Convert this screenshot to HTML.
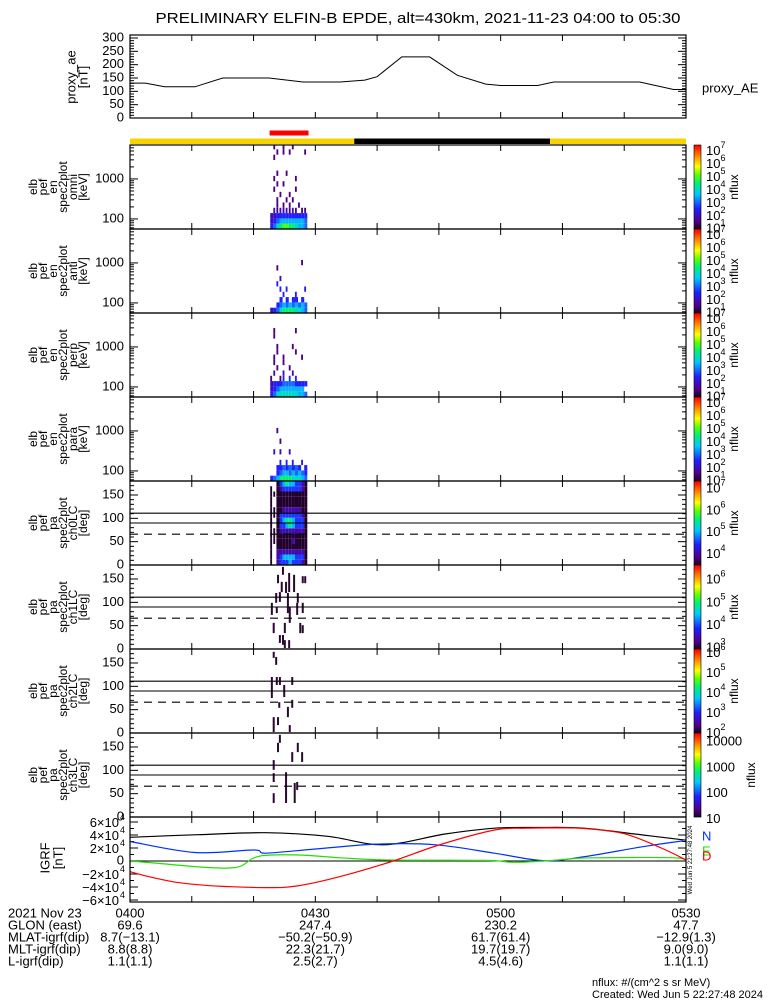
<!DOCTYPE html>
<html><head><meta charset="utf-8"><style>
html,body{margin:0;padding:0;background:#fff;}
svg{display:block;font-family:"Liberation Sans",sans-serif;}
</style></head><body>
<svg id="fig" width="775" height="1000" viewBox="0 0 775 1000" xmlns="http://www.w3.org/2000/svg">
<rect width="775" height="1000" fill="#fff"/>
<text x="418" y="23" font-size="15" text-anchor="middle" textLength="525" lengthAdjust="spacingAndGlyphs">PRELIMINARY ELFIN-B EPDE, alt=430km, 2021-11-23 04:00 to 05:30</text>
<g id="g"></g>
</svg>
<script>
// ---------- data ----------
const aeT = [0,2.5,5.6,10.5,15,22.5,28,34,38,40,44,48.5,53,57.6,60,66,68.6,82.5,88,90];
const aeV = [131,131,117,117,150,150,135,135,142,155,229,229,160,127,122,122,135,135,107,107];
const aeTicks = [0,50,100,150,200,250,300];

const igrfT_N = [0,11,22,32,41,51,59,66,73.5,83,90];
const igrfN = [36500,40500,43500,38000,25000,41500,50500,51500,50500,40000,32000];
const igrfT_E = [0,10.5,20,22,30,40,49.5,59,67,73.5,83,89.5];
const igrfE = [30000,13000,17000,12000,18500,26000,25000,12000,500,6600,22000,31000];
const igrfT_G = [0,2,11,15.6,18,20,22.5,28,34,42,57.5,62,67,71,75,88,90];
const igrfG = [-1000,-1500,-9000,-11000,-7700,4600,9000,9000,5000,1500,1000,-2000,0,3000,5000,5000,0];
const igrfT_D = [0,3,7,11,15,22,27,34,42.6,50,59,64,69,73.5,80,86,90];
const igrfD = [-16400,-24000,-32000,-36500,-39000,-41000,-38500,-24000,0,24600,47700,50500,51000,50000,42000,20000,1500];
const igrfTicks = [-60000,-40000,-20000,0,20000,40000,60000];

const orbitSegs = [[0,36.3,'#f7d400'],[36.3,68,'#000000'],[68,90,'#f7d400']];
const scienceZone = [22.6,28.9];

const specTimes = [22.7,23.2,23.7,24.2,24.7,25.2,25.7,26.2,26.7,27.2,27.7,28.2];
const specDt = 0.5;
const enEdges = [56,76,103,140,190,258,350,475,645,876,1190,1615,2190,2975,4040,5480,7100];
const omniRows = ["346788776554","234555555554","223333333333",".21212121.11","..1.1.1..1..","..1..1.1....","...1..1.....",".1......1...","..1.1.......",".1......1...","..1..1......","............","............",".1..........","..1.1.1....1",".1..1..1...."];
const antiRows = ["234677776654","..3454545454","...3.3.33.3.","....3...3...","...3.3.....3","..3.........","...2........","............","..1.........","..........1.","............","............","............","............","............","............"];
const perpRows = ["346666666554","23455555555.","233344443333","1..13.3.3...",".2..2..2....","..1...1.....",".1..1.......",".1..1.....1.","..1.....1...","..1....1....","............",".1..........",".1......1...","............","............","............"];
const paraRows = ["345777766654","..3455454543","..33434343.3","...3.3.3..3.","............",".2.2..2.....","............","...1........","............","..1.........","............","............","............","............","............","............"];
const pa0Rows = ["1.2333433321","1.2344443331","1.2222222221","1.1111111111","111111121111","111111111111","111222222221","1.1334543331","1.1345543331","111333333321","111122222211","1.1111111111","1.1111111111","111111111111","1.1233333321","..1345443321"];
const pa1T = [24.6,23.8,25.6,26.4,27.8,28.2,24.4,25.1,23.5,24.1,25.4,27.0,22.8,23.6,25.7,26.9,27.8,23.1,24.9,27.4,27.8,24.1,24.6,24.9,25.6];
const pa1Lo = [159,141,122,122,141,141,122,120,99,101,77,99,73,77,56,73,77,34,34,34,34,13,9,2,2];
const pa1Hi = [176,159,163,159,156,156,144,144,120,122,120,120,99,90,90,99,99,56,56,56,51,30,30,19,19];
const pa2T = [23.1,23.5,22.8,23.6,24.1,26.1,24.8,24.0,26.1,25.4,23.1,23.8,25.7];
const pa2Lo = [161,146,75,103,103,103,77,54,54,34,2,17,2];
const pa2Hi = [174,163,120,120,120,120,103,66,71,56,34,34,17];
const pa3T = [24.1,23.8,27.0,26.1,27.7,23.1,25.1,23.1,26.9,25.1,23.1,26.5];
const pa3Lo = [159,139,139,118,118,101,73,75,58,30,30,30];
const pa3Hi = [176,159,159,139,139,122,96,94,75,73,51,73];
const paTicks = [0,50,100,150];

const timeLabels = ["0400","0430","0500","0530"];
const labelTimes = [0,30,60,90];
const glon = ["69.6","247.4","230.2","47.7"];
const mlat = ["8.7(\u221213.1)","\u221250.2(\u221250.9)","61.7(61.4)","\u221212.9(1.3)"];
const mlt = ["8.8(8.8)","22.3(21.7)","19.7(19.7)","9.0(9.0)"];
const lval = ["1.1(1.1)","2.5(2.7)","4.5(4.6)","1.1(1.1)"];

// ---------- helpers ----------
const NS="http://www.w3.org/2000/svg";
const G=document.getElementById('g');
const X0=130,X1=686;
function xT(t){return X0+t/90*(X1-X0);}
function mk(tag,attrs,parent){const e=document.createElementNS(NS,tag);for(const k in attrs)e.setAttribute(k,attrs[k]);(parent||G).appendChild(e);return e;}
function txt(s,x,y,size,anchor,parent){const e=mk('text',{x:x,y:y,'font-size':size,'text-anchor':anchor||'start','dominant-baseline':'middle'},parent);e.textContent=s;return e;}
function vtxt(s,x,y,size,parent){const e=mk('text',{x:x,y:y,'font-size':size,'text-anchor':'middle','dominant-baseline':'middle',transform:'rotate(-90 '+x+' '+y+')'},parent);e.textContent=s;return e;}
function smoothPath(pts){let d='M'+pts[0][0].toFixed(1)+','+pts[0][1].toFixed(1);
 for(let i=0;i<pts.length-1;i++){const p0=pts[Math.max(0,i-1)],p1=pts[i],p2=pts[i+1],p3=pts[Math.min(pts.length-1,i+2)];
  const c1=[p1[0]+(p2[0]-p0[0])/6,p1[1]+(p2[1]-p0[1])/6],c2=[p2[0]-(p3[0]-p1[0])/6,p2[1]-(p3[1]-p1[1])/6];
  d+='C'+c1[0].toFixed(1)+','+c1[1].toFixed(1)+' '+c2[0].toFixed(1)+','+c2[1].toFixed(1)+' '+p2[0].toFixed(1)+','+p2[1].toFixed(1);}
 return d;}
const stops=[[0,[26,0,32]],[0.1,[80,0,140]],[0.25,[32,32,255]],[0.42,[0,200,255]],[0.55,[0,240,120]],[0.65,[90,255,0]],[0.75,[255,255,0]],[0.86,[255,150,0]],[1,[255,0,0]]];
function cmap(f){f=Math.max(0,Math.min(1,f));for(let i=1;i<stops.length;i++){if(f<=stops[i][0]){const a=stops[i-1],b=stops[i],u=(f-a[0])/(b[0]-a[0]);const c=a[1].map((v,k)=>Math.round(v+(b[1][k]-v)*u));return 'rgb('+c.join(',')+')';}}return 'rgb(255,0,0)';}
function xTicks(top,bot,g){for(let t=0;t<=90;t+=10){const x=xT(t);mk('line',{x1:x,x2:x,y1:bot,y2:bot-6,stroke:'#000'},g);mk('line',{x1:x,x2:x,y1:top,y2:top+6,stroke:'#000'},g);}}
function frame(top,bot,g){mk('rect',{x:X0,y:top,width:X1-X0,height:bot-top,fill:'none',stroke:'#000','stroke-width':1.2},g);}
function yTick(y,len,g){mk('line',{x1:X0,x2:X0+len,y1:y,y2:y,stroke:'#000'},g);mk('line',{x1:X1,x2:X1-len,y1:y,y2:y,stroke:'#000'},g);}
function colorbar(top,bot,mn,mx,labels,name,nx){const g=mk('g',{});
 for(let y=top;y<bot;y+=1){mk('rect',{x:694,y:y,width:7,height:1.2,fill:cmap(1-(y-top)/(bot-top))},g);}
 mk('rect',{x:694,y:top,width:7,height:bot-top,fill:'none',stroke:'#000','stroke-width':0.6},g);
 labels.forEach(l=>{const y=bot-(l[0]-mn)/(mx-mn)*(bot-top);if(y<top-3||y>bot+3)return;
  if(l[1]){txt(l[1],706,y,13,'start',g);}else{const e=mk('text',{x:706,y:y+5,'font-size':13},g);e.textContent='10';const s=mk('tspan',{dy:-7,'font-size':9},e);s.textContent=String(l[0]);}});
 vtxt('nflux',nx||735,(top+bot)/2,12,g);}
function leftLabel(lines,top,bot,name){const g=mk('g',{});
 const xs=[34,44,54,64,74,84];const off=6-lines.length;lines.forEach((s,i)=>vtxt(s,xs[i+off],(top+bot)/2,12,g));}

// ---------- proxy AE ----------
(function(){const top=35,bot=118;const g=mk('g',{});
 const yV=v=>bot-v*(80/300);
 for(let v=0;v<=300;v+=10){yTick(yV(v),v%50===0?8:4,g);}
 aeTicks.forEach(v=>txt(String(v),124,yV(v),13,'end',g));
 let d='';aeT.forEach((t,i)=>{d+=(i?'L':'M')+xT(t).toFixed(1)+','+yV(aeV[i]).toFixed(1);});
 const p=mk('path',{d:d,fill:'none',stroke:'#000','stroke-width':1},g);
 xTicks(top,bot,g);frame(top,bot,g);
 vtxt('proxy_ae',72,77,13,g);vtxt('[nT]',84,77,13,g);
 const l=txt('proxy_AE',702,89,13,'start',g);})();

// ---------- orbit bar ----------
(function(){const g=mk('g',{});
 orbitSegs.forEach(s=>{const r=mk('rect',{x:xT(s[0]),y:138.5,width:xT(s[1])-xT(s[0]),height:5.5,fill:s[2]},g);});
 const r=mk('rect',{x:xT(scienceZone[0]),y:130.5,width:xT(scienceZone[1])-xT(scienceZone[0]),height:5,fill:'#ff0000'},g);})();

// ---------- energy spectrograms ----------
const enPanels=[[145,229,omniRows,'omni','spec-omni-panel'],[229,313,antiRows,'anti','spec-anti-panel'],[313,397,perpRows,'perp','spec-perp-panel'],[397,481,paraRows,'para','spec-para-panel']];
enPanels.forEach(P=>{const top=P[0],bot=P[1],rows=P[2];const g=mk('g',{});
 const yE=e=>bot-(Math.log10(e)-Math.log10(56))*40;
 rows.forEach((row,r)=>{for(let i=0;i<row.length;i++){const c=row[i];if(c==='.')continue;const v=1+(+c)*0.5;
  const y1=yE(enEdges[r+1]),y2=yE(enEdges[r]);const x1=xT(specTimes[i]),x2=xT(specTimes[i]+specDt*(r>2?0.6:1));
  mk('rect',{x:x1,y:Math.max(top,y1),width:x2-x1,height:y2-Math.max(top,y1),fill:cmap((v-0.9)/(7.4-0.9))},g);}});
 for(let dec=1;dec<=3;dec++){for(let m=1;m<10;m++){const e=m*Math.pow(10,dec);const y=yE(e);if(y<top||y>bot)continue;yTick(y,m===1?8:4,g);}}
 txt('1000',124,yE(1000),13,'end',g);txt('100',124,yE(100),13,'end',g);
 xTicks(top,bot,g);frame(top,bot,g);
 leftLabel(['elb','pef','en','spec2plot',P[3],'[keV]'],top,bot,'y-axis-title-'+P[3]);
 colorbar(top,bot,0.9,7.4,[[1],[2],[3],[4],[5],[6],[7]],'colorbar-'+P[3]);});

// ---------- pitch-angle panels ----------
function paFrame(top,bot,name,g){const yP=p=>bot-p/180*(bot-top);
 for(let p=0;p<=180;p+=10){yTick(yP(p),p%50===0?8:4,g);}
 paTicks.forEach(p=>txt(String(p),124,yP(p),13,'end',g));
 [[111,false],[90,false],[66,true]].forEach(a=>{const l=mk('line',{x1:X0,x2:X1,y1:yP(a[0]),y2:yP(a[0]),stroke:'#000','stroke-width':1.1},g);if(a[1])l.setAttribute('stroke-dasharray','8,6');});
 xTicks(top,bot,g);frame(top,bot,g);
 leftLabel(['elb','pef','pa','spec2plot',name,'[deg]'],top,bot,'y-axis-title-'+name);return yP;}
(function(){const top=481,bot=565;const g=mk('g',{});
 const yP=p=>bot-p/180*(bot-top);
 pa0Rows.forEach((row,r)=>{for(let i=0;i<row.length;i++){const c=row[i];if(c==='.')continue;const v=3+(+c)*0.5;
  const x1=xT(specTimes[i]),x2=xT(specTimes[i]+specDt*(i<2?0.6:1));const y1=yP((r+1)*11.25),y2=yP(r*11.25);
  mk('rect',{x:x1,y:y1,width:x2-x1,height:y2-y1,fill:cmap((v-3.45)/(7.3-3.45))},g);}});
 paFrame(top,bot,'ch0LC',g);colorbar(top,bot,3.45,7.3,[[4],[5],[6],[7]],'colorbar-ch0');})();
[[565,649,pa1T,pa1Lo,pa1Hi,'ch1LC',2.9,6.6,[[3],[4],[5],[6]]],[649,733,pa2T,pa2Lo,pa2Hi,'ch2LC',1.95,6.15,[[2],[3],[4],[5],[6]]],[733,817,pa3T,pa3Lo,pa3Hi,'ch3LC',1.1,4.35,[[1,'10'],[2,'100'],[3,'1000'],[4,'10000']]]].forEach(P=>{
 const top=P[0],bot=P[1];const g=mk('g',{});
 const yP=p=>bot-p/180*(bot-top);
 P[2].forEach((t,i)=>{const r=mk('rect',{x:xT(t),y:yP(P[4][i]),width:2,height:yP(P[3][i])-yP(P[4][i]),fill:'#2a0830'},g);});
 paFrame(top,bot,P[5],g);colorbar(top,bot,P[6],P[7],P[8],'colorbar-'+P[5],P[5]==='ch3LC'?752:735);});

// ---------- IGRF ----------
(function(){const top=817,bot=902;const g=mk('g',{});
 const yV=v=>861-v/60000*39;
 for(let v=-60000;v<=60000;v+=10000){yTick(yV(v),v%20000===0?8:4,g);}
 igrfTicks.forEach(v=>{const y=yV(v);if(v===0){txt('0',124,y,13,'end',g);return;}
  const e=mk('text',{x:119,y:y+5,'font-size':13,'text-anchor':'end'},g);e.textContent=(v<0?'\u2212':'')+Math.abs(v/10000)+'\u00d710';
  const s=mk('text',{x:120,y:y-2,'font-size':9},g);s.textContent='4';});
 mk('line',{x1:X0,x2:X1,y1:yV(0),y2:yV(0),stroke:'#000'},g);
 [[igrfT_N,igrfN,'#000','igrf-total-line'],[igrfT_E,igrfE,'#0030ff','igrf-n-line'],[igrfT_G,igrfG,'#20e000','igrf-e-line'],[igrfT_D,igrfD,'#ff0000','igrf-d-line']].forEach(s=>{
  const pts=s[0].map((t,i)=>[xT(t),yV(s[1][i])]);
  const p=mk('path',{d:smoothPath(pts),fill:'none',stroke:s[2],'stroke-width':1.2},g);});
 xTicks(top,bot,g);frame(top,bot,g);
 vtxt('IGRF',46,858,13,g);vtxt('[nT]',59,858,13,g);
 const n=txt('N',702,837,13,'start',g);n.setAttribute('fill','#0030ff');
 const e=txt('E',702,852,13,'start',g);e.setAttribute('fill','#20e000');
 const dd=txt('D',702,857,13,'start',g);dd.setAttribute('fill','#ff0000');
 const ts=mk('text',{x:692,y:860,'font-size':6,'text-anchor':'middle',transform:'rotate(-90 692 860)'},g);ts.textContent='Wed Jun  5 22:27:48 2024';})();

// ---------- bottom annotations ----------
(function(){const g=mk('g',{});
 const rows=[['2021 Nov 23',timeLabels,914],['GLON (east)',glon,926],['MLAT-igrf(dip)',mlat,938],['MLT-igrf(dip)',mlt,950],['L-igrf(dip)',lval,962]];
 rows.forEach(r=>{txt(r[0],8,r[2],13,'start',g);r[1].forEach((s,i)=>txt(s,xT(labelTimes[i]),r[2],13,'middle',g));});
 txt('nflux: #/(cm^2 s sr MeV)',592,983,11,'start',g);txt('Created: Wed Jun  5 22:27:48 2024',592,995,11,'start',g);})();
</script>
</body></html>
